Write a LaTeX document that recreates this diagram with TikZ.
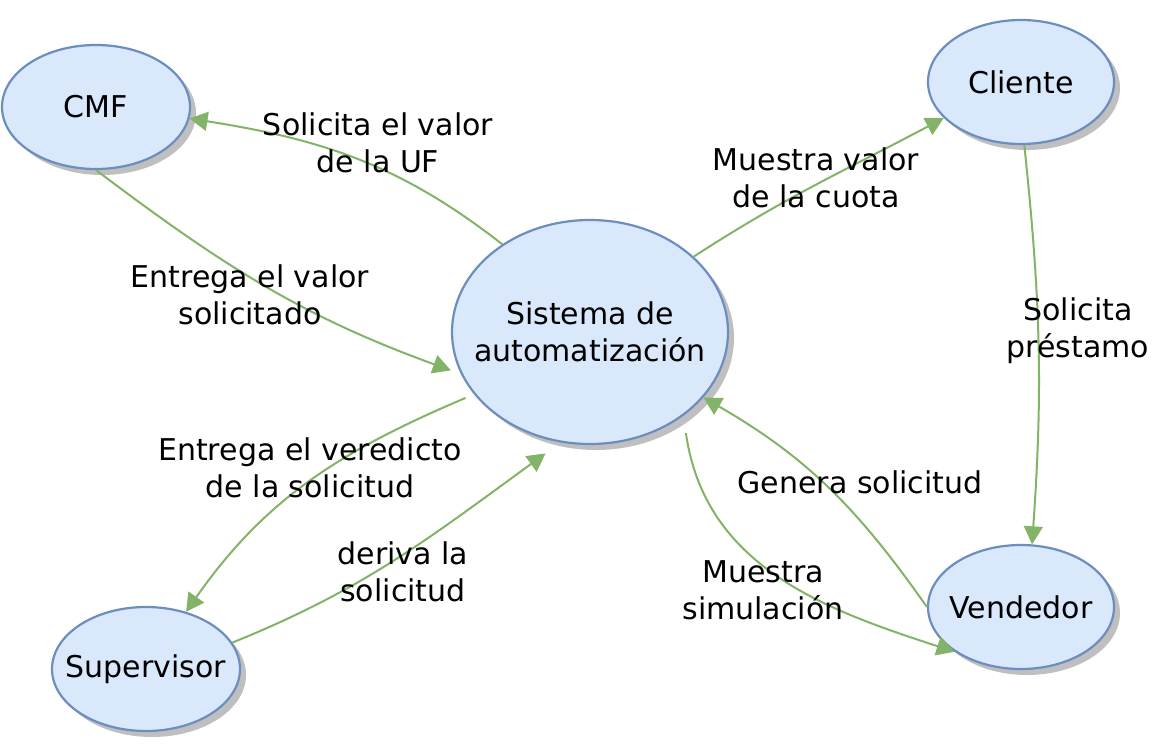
\documentclass[tikz,border=0pt]{standalone}
\usepackage{fontspec}
\setmainfont{DejaVu Sans}
\usepackage{xcolor}
\usetikzlibrary{arrows.meta, positioning, shapes.geometric, shadows}

\definecolor{azulfondo}{HTML}{DAE8FC}
\definecolor{azulborde}{HTML}{6C8EBF}
\definecolor{verde}{HTML}{82B366}

\tikzset{
  actor/.style={ellipse, draw=azulborde, fill=azulfondo, line width=1.1pt,
    drop shadow={shadow xshift=3pt, shadow yshift=-3pt, fill=black!25, opacity=1},
    label={[align=center, font=\fontsize{15}{18.5}\selectfont]center:#1}},
  flujo/.style={draw=verde, line width=1pt, -{Triangle[length=9pt, width=9.5pt]}},
  texto/.style={align=center, font=\fontsize{15}{18.5}\selectfont, inner sep=0pt}
}

\begin{document}
\begin{tikzpicture}[x=0.5pt, y=-0.5pt]
  \useasboundingbox (0,0) rectangle (1173,749);

  % actores
  \node[actor={CMF}, minimum width=94pt, minimum height=62pt] (cmf) at (96,107) {};
  \node[actor={Cliente}, minimum width=93pt, minimum height=62pt] (cli) at (1021,82) {};
  \node[actor={Sistema de\\automatización}, minimum width=138pt, minimum height=112pt] (sis) at (590,332) {};
  \node[actor={Supervisor}, minimum width=94pt, minimum height=62pt] (sup) at (146,669) {};
  \node[actor={Vendedor}, minimum width=93pt, minimum height=62pt] (ven) at (1021,607) {};

  % flujos
  \draw[flujo] (sis.135) to[out=142, in=-9] (cmf.-7);
  \draw[flujo] (cmf.-90) to[out=-37, in=160] ([xshift=-3.5pt, yshift=-1.5pt]sis.195);
  \draw[flujo] (sis.36) to[out=33, in=208] (cli.205);
  \draw[flujo] (cli.-87) to[out=-84, in=86] (ven.80);
  \draw[flujo] (ven.180) to[out=125, in=-30] (sis.-30);
  \draw[flujo] ([xshift=5pt, yshift=-6pt]sis.-46) to[out=-82, in=162] (ven.214);
  \draw[flujo] ([xshift=-4pt, yshift=-2pt]sis.208) to[out=203, in=55] (sup.55);
  \draw[flujo] (sup.17) to[out=22, in=216] ([xshift=-2.5pt, yshift=-6.5pt]sis.250);

  % etiquetas
  \node[texto] (t-uf) at (378,143) {Solicita el valor\\de la UF};
  \node[texto] (t-cuota) at (816,178) {Muestra valor\\ de la cuota};
  \node[texto] (t-valor) at (250,295) {Entrega el valor\\solicitado};
  \node[texto] (t-prestamo) at (1078,331) {Solicita\\préstamo};
  \node[texto] (t-veredicto) at (310,468) {Entrega el veredicto\\de la solicitud};
  \node[texto] (t-genera) at (860,482) {Genera solicitud};
  \node[texto] (t-deriva) at (403,572) {deriva la\\solicitud};
  \node[texto] (t-simula) at (763,590) {Muestra\\simulación};
\end{tikzpicture}
\end{document}
